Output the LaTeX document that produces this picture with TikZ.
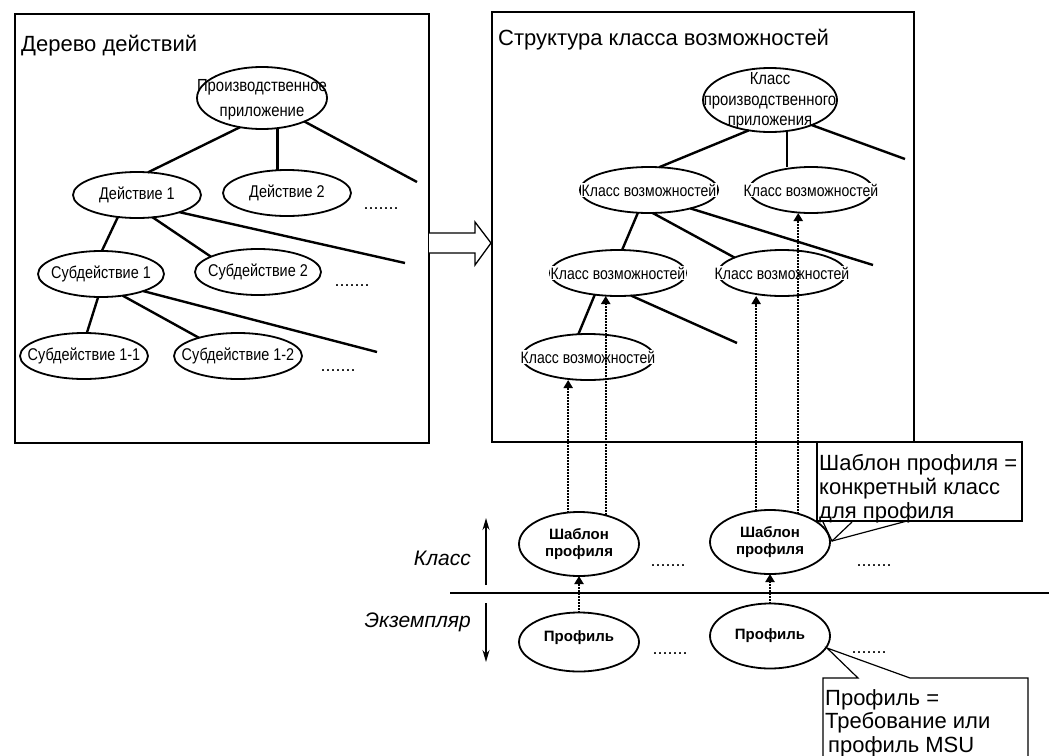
\documentclass[tikz,border=0pt]{standalone}
\usepackage{fontspec}
\setmainfont{Liberation Sans}
\newfontfamily\narrowsf[FakeStretch=0.85]{Liberation Sans}
\usetikzlibrary{arrows.meta, calc, shapes.geometric}

% ellipse with its text on a white patch
\newcommand{\ovalnode}[7][captext]{%
    \node[oval, minimum width=2*#5pt, minimum height=2*#6pt] (#2) at (#3,#4) {};
    \node[#1] (#2txt) at (#2) {#7};
}

\begin{document}
\begin{tikzpicture}[x=1pt, y=-1pt,
    oval/.style={draw, ellipse, line width=1.8pt, inner sep=0pt, outer sep=0pt},
    captext/.style={font=\narrowsf\fontsize{16.5}{19}\selectfont, fill=white, inner sep=1pt, align=center},
    acttext/.style={font=\narrowsf\fontsize{17}{19}\selectfont, fill=white, inner sep=0.5pt, align=center},
    boldtext/.style={font=\bfseries\fontsize{15}{17}\selectfont, inner sep=0pt, align=center},
    branch/.style={line width=2.4pt},
    dotarrow/.style={line width=2pt, densely dotted, -{Triangle[width=9pt,length=8pt]}},
    levelarrow/.style={line width=1.5pt, -{Stealth[width=7pt,length=12pt]}},
    more/.style={font=\fontsize{18}{18}\selectfont, anchor=base, inner sep=0pt},
    note/.style={font=\fontsize{22}{24}\selectfont, align=left, inner sep=0pt, anchor=north west},
    box/.style={line width=1.5pt}]

    \useasboundingbox (0,0) rectangle (1049,755);

    % free ends of the branches
    \coordinate (lend1) at (417,182);
    \coordinate (lend2) at (405,263);
    \coordinate (lend3) at (377,352);
    \coordinate (rend1) at (905,159);
    \coordinate (rend2) at (873,265);
    \coordinate (rend3) at (737,343);

    % frames
    \draw[box] (15,14) rectangle (429,443);
    \draw[box] (492,12) rectangle (914,442);
    \node[font=\fontsize{22}{24}\selectfont, anchor=base west, inner sep=0pt] (ltitle) at (21,51) {Дерево действий};
    \node[font=\fontsize{22}{24}\selectfont, anchor=base west, inner sep=0pt] (rtitle) at (498,45) {Структура класса возможностей};

    % hollow arrow between the frames
    \draw[line width=1.3pt, fill=white]
        (429,233) -- (475,233) -- (475,222) -- (491,243) -- (475,265) -- (475,253) -- (429,253);

    % tree of actions
    \ovalnode[acttext]{lroot}{262}{98}{65}{31}{}
    \node[acttext, fill=none, font=\narrowsf\fontsize{17.5}{25}\selectfont] (lroottxt2) at (262,100) {Производственное\\приложение};
    \ovalnode[acttext]{lact1}{137}{195}{64}{23}{Действие 1}
    \ovalnode[acttext]{lact2}{287}{193}{64}{23}{Действие 2}
    \ovalnode[acttext]{lsub1}{101}{274}{63}{23}{Субдействие 1}
    \ovalnode[acttext]{lsub2}{258}{272}{63}{23}{Субдействие 2}
    \ovalnode[acttext]{lsub11}{84}{356}{64}{23}{Субдействие 1-1}
    \ovalnode[acttext]{lsub12}{238}{356}{64}{23}{Субдействие 1-2}

    \draw[branch] (lroot.233) -- (lact1.64);
    \draw[branch] (lroot.297) -- (lroot.297 |- lact2.north);
    \draw[branch] (lroot.331) -- (lend1);
    \draw[branch] (lact1.229) -- (lsub1.88);
    \draw[branch] (lact1.305) -- (lsub2.162);
    \draw[branch] (lact1.338) -- (lend2);
    \draw[branch] (lsub1.263) -- (lsub11.83);
    \draw[branch] (lsub1.315) -- (lsub12.155);
    \draw[branch] (lsub1.338) -- (lend3);

    % structure of capability classes
    \ovalnode{rroot}{770}{100}{67}{32}{}
    \node[captext, fill=none, font=\narrowsf\fontsize{17.5}{20.5}\selectfont] (rroottxt2) at (770,101) {Класс\\производственного\\приложения};
    \ovalnode{rcap1}{649}{190}{69}{23}{Класс возможностей}
    \ovalnode{rcap2}{811}{190}{62}{23}{Класс возможностей}
    \ovalnode{rcap3}{618}{273}{68}{23}{Класс возможностей}
    \ovalnode{rcap4}{782}{273}{64}{23}{Класс возможностей}
    \ovalnode{rcap5}{588}{357}{66}{23}{Класс возможностей}

    \draw[branch] (rroot.235) -- (rcap1.66);
    \draw[branch] (rroot.299) -- (rroot.299 |- rcap2.north);
    \draw[branch] (rroot.329) -- (rend1);
    \draw[branch] (rcap1.244) -- (rcap3.80);
    \draw[branch] (rcap1.279) -- (rcap4.162);
    \draw[branch] (rcap1.336) -- (rend2);
    \draw[branch] (rcap3.223) -- (rcap5.113);
    \draw[branch] (rcap3.300) -- (rend3);

    % templates and profiles
    \node[oval, minimum width=120pt, minimum height=64pt] (tpl1) at (579,544) {};
    \node[oval, minimum width=120pt, minimum height=64pt] (tpl2) at (770,542) {};
    \node[oval, minimum width=120pt, minimum height=59pt] (prof1) at (579,642) {};
    \node[oval, minimum width=120pt, minimum height=65pt] (prof2) at (770,636) {};
    \node[boldtext] (tpl1txt) at (tpl1) {Шаблон\\профиля};
    \node[boldtext] (tpl2txt) at (tpl2) {Шаблон\\профиля};
    \node[boldtext] (prof1txt) at ($(prof1)+(0,-4)$) {Профиль};
    \node[boldtext] (prof2txt) at (prof2) {Профиль};

    \draw[dotarrow] (tpl1.109) -- (tpl1.109 |- rcap5.south);
    \draw[dotarrow] (tpl1.47) -- (tpl1.47 |- rcap3.south);
    \draw[dotarrow] (tpl2.114) -- (tpl2.114 |- rcap4.south);
    \draw[dotarrow] (tpl2.45) -- (tpl2.45 |- rcap2.south);
    \draw[dotarrow] (prof1.north) -- (tpl1.south);
    \draw[dotarrow] (prof2.north) -- (tpl2.south);

    \foreach \x/\y [count=\i] in {381/209, 352/286, 338/371, 668/566, 874/566, 670/654, 869/653}
        \node[more] (more\i) at (\x,\y) {.......};

    % class / instance levels
    \coordinate (sepL) at (450,593);
    \coordinate (sepR) at (1049,593);
    \draw[line width=2pt] (sepL) -- (sepR);
    \coordinate (upA) at (486,585);
    \coordinate (upB) at (486,518);
    \coordinate (dnA) at (486,603);
    \coordinate (dnB) at (486,662);
    \draw[levelarrow] (upA) -- (upB);
    \draw[levelarrow] (dnA) -- (dnB);
    \node[font=\itshape\fontsize{21}{24}\selectfont, anchor=east, inner sep=0pt] (classlbl) at (471,558) {Класс};
    \node[font=\itshape\fontsize{21}{24}\selectfont, anchor=east, inner sep=0pt] (instlbl) at (471,622) {Экземпляр};

    % callouts
    \draw[line width=1.2pt] (817,442) rectangle (1022,521);
    \draw[line width=1.2pt] (823,522) -- (832,541) -- (852,522);
    \draw[line width=1.2pt] (832,541) -- (907,521);
    \node[note] (note1) at (819,454) {Шаблон профиля =\\конкретный класс\\для профиля};

    \draw[line width=1.2pt] (823,760) -- (823,678) -- (858,678) -- (827,648) -- (910,678) -- (1028,678) -- (1028,760);
    \node[note, font=\fontsize{22}{23.5}\selectfont] (note2) at (825,689) {Профиль =\\Требование или\\\hspace*{3pt}профиль MSU};
\end{tikzpicture}
\end{document}
